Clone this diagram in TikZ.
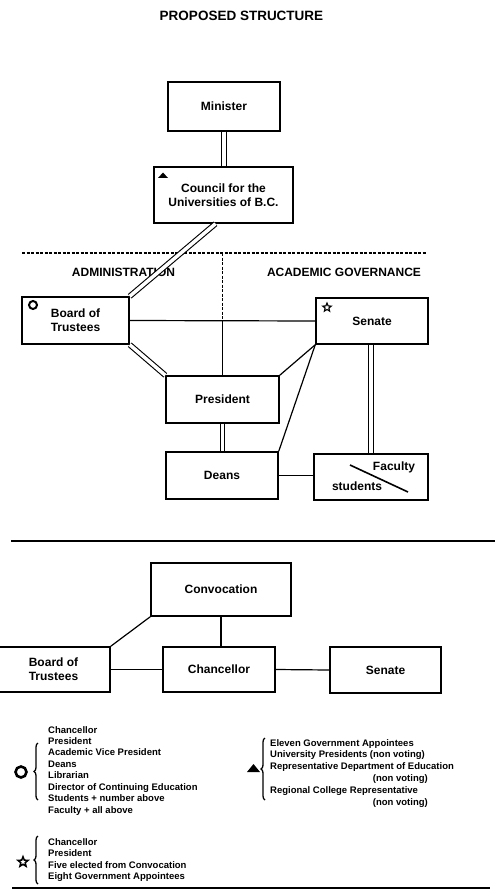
\documentclass[tikz,border=0pt]{standalone}
\usepackage{fontspec}
\setmainfont{Liberation Sans}
\usetikzlibrary{shapes.geometric,decorations.pathreplacing,calc}
\begin{document}
\begin{tikzpicture}[x=1pt,y=-1pt,
 box/.style={draw, line width=1.5pt, inner sep=0pt, align=center, font=\fontsize{12}{14}\selectfont\bfseries},
 conn/.style={line width=1.2pt},
 dbl/.style={double, double distance=3.5pt, line width=1.1pt},
 lbl/.style={font=\fontsize{12}{14}\selectfont\bfseries, inner sep=0pt},
 leg/.style={font=\fontsize{9.5}{11}\selectfont\bfseries, inner sep=0pt, anchor=base west},
 legr/.style={font=\fontsize{9.5}{11}\selectfont\bfseries, inner sep=0pt, anchor=base east},
 brc/.style={decorate, decoration={brace, amplitude=4pt}, line width=1.3pt},
 ring/.style={circle, draw, inner sep=0pt},
 starmk/.style={star, star points=5, star point ratio=2.3, draw, inner sep=0pt},
 dashline/.style={dash pattern=on 3pt off 1.5pt, line width=1.4pt},
 sepline/.style={line width=1.5pt}
]
\fill[white] (0,0) rectangle (498,896);
\useasboundingbox (0,0) rectangle (498,896);

% title
\node[font=\fontsize{13.5}{15}\selectfont\bfseries, inner sep=0pt] (title) at (241.5,16) {PROPOSED STRUCTURE};

% upper diagram boxes
\node[box, minimum width=112pt, minimum height=49pt] (minister) at (224,106.5) {Minister};
\node[box, minimum width=139pt, minimum height=56pt] (council) at (223.5,195) {Council for the\\Universities of B.C.};
\node[box, minimum width=107pt, minimum height=47pt] (board) at (75.5,320.5) {Board of\\Trustees};
\node[box, minimum width=112pt, minimum height=46pt] (senate) at (372,321) {Senate};
\node[box, minimum width=113pt, minimum height=47pt] (president) at (222.5,399.5) {President};
\node[box, minimum width=112pt, minimum height=47pt] (deans) at (222,475.5) {Deans};
\node[box, minimum width=114pt, minimum height=46pt] (fac) at (371,477) {};

% markers in boxes
\fill (158,178) -- (163,172.5) -- (168,178) -- cycle;
\node[ring, line width=2pt, minimum size=8pt] (bmark) at (33,305) {};
\node[starmk, line width=1.1pt, minimum size=9pt] (smark) at (327,307.5) {};

% faculty / students
\coordinate (s1) at (350,465);
\coordinate (s2) at (408,492);
\draw[line width=1.6pt] (s1) -- (s2);
\node[lbl] (faclbl) at (394,467) {Faculty};
\node[lbl] (stulbl) at (357,486) {students};

% section labels and divider
\coordinate (hl) at (22,253);
\coordinate (hr) at (427,253);
\draw[dashline] (hl) -- (hr);
\node[lbl] (admin) at (123.5,272) {ADMINISTRATION};
\node[lbl] (acad) at (344,272) {ACADEMIC GOVERNANCE};
\coordinate (dtop) at (222.5,253);
\draw[dashline] (dtop) -- (dtop |- board.east);
\draw[conn] (dtop |- board.east) -- (president.north);

% connectors upper
\draw[dbl] (minister.south) -- (minister.south |- council.north);
\draw[dbl] ($(council.south)+(-8,0)$) -- (board.north east);
\draw[conn] (board.east) -- (senate.west);
\draw[dbl] (board.south east) -- (president.north west);
\draw[conn] (senate.south west) -- (president.north east);
\draw[conn] (senate.south west) -- (deans.north east);
\draw[dbl] (president.south) -- (president.south |- deans.north);
\draw[dbl] ($(senate.south)+(-1,0)$) -- ($(senate.south |- fac.north)+(-1,0)$);
\draw[conn] (deans.east) -- (fac.west |- deans.east);

% separator
\coordinate (sl) at (11,541);
\coordinate (sr) at (495,541);
\draw[sepline] (sl) -- (sr);

% lower diagram
\node[box, minimum width=140pt, minimum height=53pt] (conv) at (221,589.5) {Convocation};
\node[box, minimum width=113pt, minimum height=45pt] (board2) at (53.5,669.5) {Board of\\Trustees};
\node[box, minimum width=112pt, minimum height=45pt] (chanc) at (219,669.5) {Chancellor};
\node[box, minimum width=111pt, minimum height=46pt] (senate2) at (385.5,670) {Senate};
\draw[conn] (conv.south west) -- (board2.north east);
\draw[conn] (conv.south) -- (conv.south |- chanc.north);
\draw[conn] (board2.east) -- (chanc.west);
\draw[conn] (chanc.east) -- (senate2.west);

% legend: board of trustees
\node[ring, line width=2.6pt, minimum size=11pt] (lring) at (21,772) {};
\coordinate (b1a) at (38,800);
\coordinate (b1b) at (38,743);
\draw[brc] (b1a) -- (b1b);
\foreach \t [count=\i] in {Chancellor,President,Academic Vice President,Deans,Librarian,Director of Continuing Education,Students + number above,Faculty + all above}
  \node[leg] (la\i) at (48,{733+(\i-1)*11.43}) {\t};

% legend: council
\fill (247,772) -- (253.5,764) -- (260,772) -- cycle;
\coordinate (b2a) at (265,800);
\coordinate (b2b) at (265,738);
\draw[brc] (b2a) -- (b2b);
\node[leg] (lb1) at (270,746) {Eleven Government Appointees};
\node[leg] (lb2) at (270,757.8) {University Presidents (non voting)};
\node[leg] (lb3) at (270,769.6) {Representative Department of Education};
\node[legr] (lb4) at (428,781.4) {(non voting)};
\node[leg] (lb5) at (270,793.2) {Regional College Representative};
\node[legr] (lb6) at (428,805) {(non voting)};

% legend: senate
\node[starmk, line width=1.5pt, minimum size=10.5pt] (lstar) at (23,862) {};
\coordinate (b3a) at (38,884);
\coordinate (b3b) at (38,836);
\draw[brc] (b3a) -- (b3b);
\foreach \t [count=\i] in {Chancellor,President,Five elected from Convocation,Eight Government Appointees}
  \node[leg] (lc\i) at (48,{845+(\i-1)*11.5}) {\t};

% bottom rule
\coordinate (bl) at (12,888);
\coordinate (br) at (490,888);
\draw[sepline] (bl) -- (br);
\end{tikzpicture}
\end{document}
